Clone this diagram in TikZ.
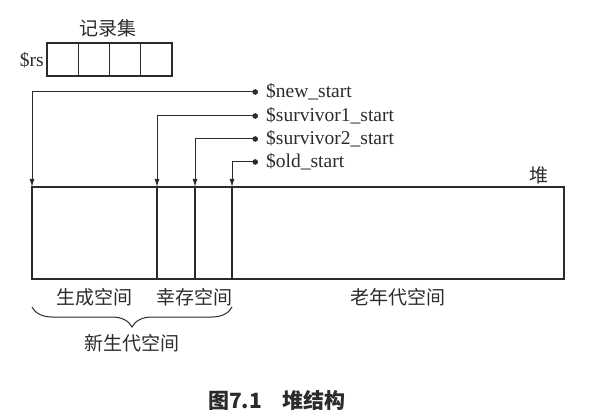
\documentclass[tikz,border=0pt]{standalone}
\usepackage{fontspec}
\setmainfont{Liberation Serif}
\newfontfamily\cjk{Noto Sans CJK SC}
\usetikzlibrary{arrows.meta,calc,positioning,decorations.pathreplacing}
\definecolor{HeapInk}{HTML}{2B2B2B}

\begin{document}
\begin{tikzpicture}[
    x=1pt,y=-1pt,
    font=\fontsize{19.5}{21}\selectfont,
    text=HeapInk,
    cell/.style={draw=HeapInk,line width=1.1pt,minimum height=33pt,minimum width=31.25pt,inner sep=0pt,outer sep=0pt},
    space/.style={draw=HeapInk,line width=1.1pt,minimum height=92pt,inner sep=0pt,outer sep=0pt},
    lbl/.style={font=\cjk\fontsize{19}{21}\selectfont,inner sep=0pt},
    var/.style={anchor=west,inner sep=0pt},
    ptr/.style={{Circle[length=5.5pt]}-{Latex[length=8pt,width=5pt]},line width=1pt,draw=HeapInk},
    brc/.style={decorate,decoration={brace,mirror,amplitude=20pt},line width=1pt,draw=HeapInk}
  ]
    \useasboundingbox (0,0) rectangle (591,419);

    % record set
    \node[cell] (rs1) at (62.6,59.5) {};
    \foreach \i [remember=\i as \j (initially 1)] in {2,...,4}
      \node[cell,right=0pt of rs\j] (rs\i) {};
    \node[var,anchor=east] (rsname) at (44,60) {\$rs};
    \node[lbl] (rstitle) at (108,28) {记录集};

    % heap
    \node[space,minimum width=125pt] (newsp) at (94.5,233) {};
    \node[space,minimum width=38pt,right=0pt of newsp] (sv1) {};
    \node[space,minimum width=37pt,right=0pt of sv1] (sv2) {};
    \node[space,minimum width=332pt,right=0pt of sv2] (oldsp) {};
    \node[lbl] (heap) at (539,175) {堆};

    % pointers
    \node[var] (vnew) at (266,92) {\$new\_start};
    \node[var] (vsv1) at (266,116) {\$survivor1\_start};
    \node[var] (vsv2) at (266,139) {\$survivor2\_start};
    \node[var] (vold) at (266,162) {\$old\_start};
    \coordinate (dnew) at (258,92);
    \coordinate (dsv1) at (258,116);
    \coordinate (dsv2) at (258,139);
    \coordinate (dold) at (258,162);
    \draw[ptr] (dnew) -| (newsp.north west);
    \draw[ptr] (dsv1) -| (sv1.north west);
    \draw[ptr] (dsv2) -| (sv2.north west);
    \draw[ptr] (dold) -| (oldsp.north west);

    % space names
    \node[lbl] (lnew) at (94,297) {生成空间};
    \node[lbl] (lsv) at (194,297) {幸存空间};
    \node[lbl] (lold) at (398,297) {老年代空间};
    \draw[brc] ([yshift=-28pt]newsp.south west) -- ([yshift=-28pt]sv2.south east);
    \node[lbl] (lyoung) at (132,343) {新生代空间};

    \node[font=\cjk\bfseries\fontsize{21}{23}\selectfont,inner sep=0pt] (caption) at (277,400) {图7.1\quad 堆结构};
  \end{tikzpicture}
\end{document}
